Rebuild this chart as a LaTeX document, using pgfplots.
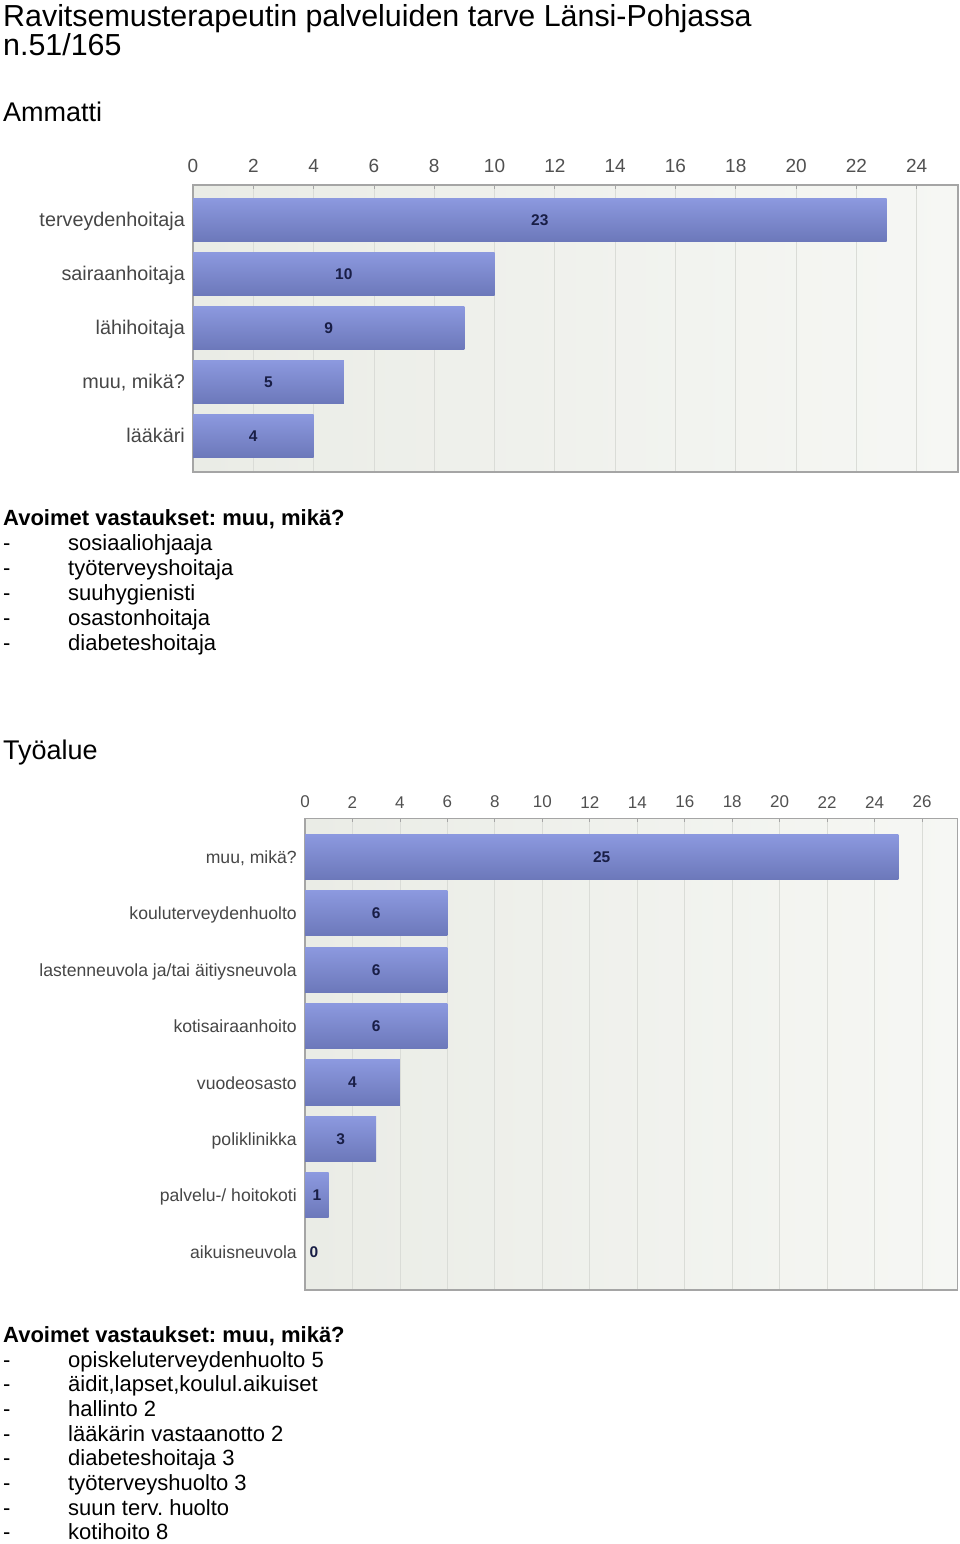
\documentclass[border=0pt]{standalone}
\usepackage{fontspec}
\setmainfont{Liberation Sans}
\usepackage{pgfplots}
\pgfplotsset{compat=1.18}
\frenchspacing

\definecolor{barT}{RGB}{140,153,223}
\definecolor{barB}{RGB}{108,120,186}
\definecolor{bgL}{RGB}{234,236,230}
\definecolor{bgR}{RGB}{246,247,244}
\definecolor{gridc}{RGB}{218,220,215}
\definecolor{axc}{RGB}{165,165,165}
\definecolor{tickc}{RGB}{80,80,80}
\definecolor{labc}{RGB}{70,70,70}
\definecolor{valc}{RGB}{25,30,70}

\pgfplotsset{
 mybars/.style={
  scale only axis, y dir=reverse,
  xtick pos=right, xticklabel pos=right,
  ytick style={draw=none},
  xmajorgrids, major grid style={gridc, line width=0.8pt},
  axis line style={axc, line width=1.3pt},
  tick style={axc, line width=0.8pt}, major tick length=4pt, xtick align=inside,
  axis background/.style={left color=bgL, right color=bgR},
  /pgf/number format/assume math mode=true,
  xticklabel style={text=tickc, anchor=south, inner sep=0pt},
  yticklabel style={text=labc, anchor=base east, inner sep=0pt},
 },
 mybar/.style={xbar, bar width=0.8, bar shift=0pt, draw=none, top color=barT, bottom color=barB},
 myval/.style={draw=none, nodes near coords, point meta=explicit symbolic,
   every node near coord/.append style={anchor=center, inner sep=0pt,
   font=\fontsize{15.5}{16}\selectfont\bfseries, text=valc}},
}

\pgfplotstableread{
y x v
0 11.5 23
1 5 10
2 4.5 9
3 2.5 5
4 2 4
}\ammattilab

\pgfplotstableread{
y x v
0 12.5 25
1 3 6
2 3 6
3 3 6
4 2 4
5 1.5 3
6 0.5 1
7 0.38 0
}\tyoaluelab

\begin{document}
\begin{tikzpicture}
\useasboundingbox (0,0) rectangle (960pt,-1544pt);

\node[anchor=base west, inner sep=0pt, font=\fontsize{30.4}{34}\selectfont] at (3pt,-27pt) {Ravitsemusterapeutin palveluiden tarve Länsi-Pohjassa};
\node[anchor=base west, inner sep=0pt, font=\fontsize{30.4}{34}\selectfont] at (3pt,-56pt) {n.51/165};
\node[anchor=base west, inner sep=0pt, font=\fontsize{27}{30}\selectfont] at (3pt,-122pt) {Ammatti};

\begin{axis}[mybars,
  at={(193pt,-185pt)}, anchor=north west,
  width=765pt, height=287pt,
  xmin=0, xmax=25.37, ymin=-0.648, ymax=4.667,
  xtick={0,2,...,24},
  xticklabel style={yshift=12pt, font=\fontsize{19}{20}\selectfont},
  ytick={0,1,2,3,4},
  yticklabels={terveydenhoitaja, sairaanhoitaja, lähihoitaja, {muu, mikä?}, lääkäri},
  yticklabel style={xshift=-8pt, yshift=-7pt, font=\fontsize{19.8}{20}\selectfont},
]
\addplot[mybar] coordinates {(23,0)};
\addplot[mybar] coordinates {(10,1)};
\addplot[mybar] coordinates {(9,2)};
\addplot[mybar] coordinates {(5,3)};
\addplot[mybar] coordinates {(4,4)};
\addplot[myval] table[x=x, y=y, meta=v] {\ammattilab};
\end{axis}

\node[anchor=base west, inner sep=0pt, font=\fontsize{22}{25}\selectfont\bfseries] at (3pt,-525pt) {Avoimet vastaukset: muu, mikä?};
\foreach \t [count=\i from 0] in {sosiaaliohjaaja, työterveyshoitaja, suuhygienisti, osastonhoitaja, diabeteshoitaja}{
  \node[anchor=base west, inner sep=0pt, font=\fontsize{22}{25}\selectfont] at (3pt,{-550pt-25pt*\i}) {-};
  \node[anchor=base west, inner sep=0pt, font=\fontsize{22}{25}\selectfont] at (68pt,{-550pt-25pt*\i}) {\t};
}

\node[anchor=base west, inner sep=0pt, font=\fontsize{27}{30}\selectfont] at (3pt,-759pt) {Työalue};

\begin{axis}[mybars,
  at={(305pt,-818.3pt)}, anchor=north west,
  width=652.7pt, height=471.7pt,
  xmin=0, xmax=27.5, ymin=-0.686, ymax=7.68,
  xtick={0,2,...,26},
  xticklabel style={yshift=10pt, font=\fontsize{17}{18}\selectfont},
  ytick={0,1,...,7},
  yticklabels={{muu, mikä?}, kouluterveydenhuolto, lastenneuvola ja/tai äitiysneuvola, kotisairaanhoito, vuodeosasto, poliklinikka, palvelu-/ hoitokoti, aikuisneuvola},
  yticklabel style={xshift=-8pt, yshift=-6.5pt, font=\fontsize{17.6}{18}\selectfont},
]
\addplot[mybar] coordinates {(25,0)};
\addplot[mybar] coordinates {(6,1)};
\addplot[mybar] coordinates {(6,2)};
\addplot[mybar] coordinates {(6,3)};
\addplot[mybar] coordinates {(4,4)};
\addplot[mybar] coordinates {(3,5)};
\addplot[mybar] coordinates {(1,6)};
\addplot[myval] table[x=x, y=y, meta=v] {\tyoaluelab};
\end{axis}

\node[anchor=base west, inner sep=0pt, font=\fontsize{22}{25}\selectfont\bfseries] at (3pt,-1342pt) {Avoimet vastaukset: muu, mikä?};
\foreach \t [count=\i from 0] in {opiskeluterveydenhuolto 5, {äidit,lapset,koulul.aikuiset}, hallinto 2, lääkärin vastaanotto 2, diabeteshoitaja 3, työterveyshuolto 3, suun terv. huolto, kotihoito 8}{
  \node[anchor=base west, inner sep=0pt, font=\fontsize{22}{25}\selectfont] at (3pt,{-1367pt-24.7pt*\i}) {-};
  \node[anchor=base west, inner sep=0pt, font=\fontsize{22}{25}\selectfont] at (68pt,{-1367pt-24.7pt*\i}) {\t};
}
\end{tikzpicture}
\end{document}
